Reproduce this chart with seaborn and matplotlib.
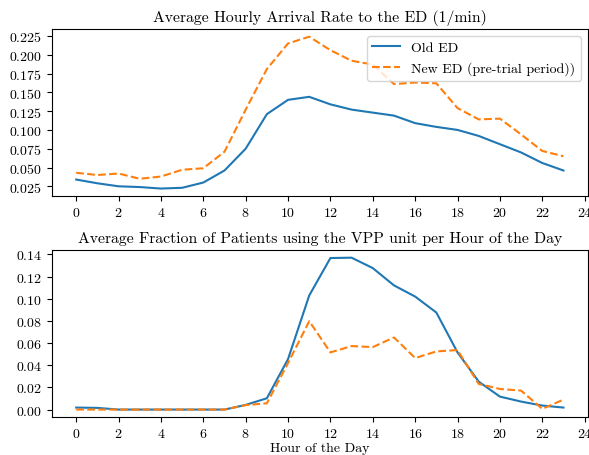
import numpy as np
import pandas as pd
import matplotlib
matplotlib.use("Agg")
import matplotlib.pyplot as plt
import seaborn as sns

# hours of the day
hours = list(range(24))

# arrival rate (1/min)
arr_old = [0.034, 0.029, 0.025, 0.024, 0.022, 0.023, 0.030, 0.046, 0.075, 0.121,
           0.140, 0.144, 0.134, 0.127, 0.123, 0.119, 0.109, 0.104, 0.100, 0.092,
           0.081, 0.070, 0.056, 0.046]
arr_new = [0.043, 0.040, 0.042, 0.035, 0.038, 0.047, 0.049, 0.071, 0.127, 0.181,
           0.215, 0.224, 0.206, 0.192, 0.187, 0.161, 0.163, 0.162, 0.129, 0.114,
           0.115, 0.094, 0.072, 0.065]

# fraction using the VPP unit
vpp_old = [0.0018, 0.0015, 0.0, 0.0, 0.0, 0.0, 0.0, 0.0, 0.0042, 0.0102,
           0.0456, 0.103, 0.1368, 0.1371, 0.1277, 0.1121, 0.102, 0.0876, 0.0516, 0.0252,
           0.0117, 0.0072, 0.0036, 0.0018]
vpp_new = [0.0, 0.0, 0.0, 0.0, 0.0, 0.0, 0.0, 0.0, 0.004, 0.0057,
           0.042, 0.0798, 0.0516, 0.0573, 0.0564, 0.0651, 0.0465, 0.0525, 0.0537, 0.0231,
           0.0186, 0.0171, 0.0006, 0.009]

lbl_old = "Old ED"
lbl_new = "New ED (pre-trial period))"

plt.rcParams['font.family'] = ['cmr10', 'DejaVu Serif']
plt.rcParams['axes.formatter.use_mathtext'] = True
plt.rcParams['mathtext.fontset'] = 'cm'

df = pd.DataFrame({"hour": hours, "arr_old": arr_old, "arr_new": arr_new,
                   "vpp_old": vpp_old, "vpp_new": vpp_new})

fig, (ax1, ax2) = plt.subplots(2, 1, figsize=(5.89, 4.56), dpi=100)
fig.subplots_adjust(left=0.088, right=0.998, top=0.934, bottom=0.083, hspace=0.323)

# top panel
sns.lineplot(data=df, x="hour", y="arr_old", ax=ax1, color="tab:blue", label=lbl_old)
sns.lineplot(data=df, x="hour", y="arr_new", ax=ax1, color="tab:orange", linestyle="--", label=lbl_new)
ax1.set_title("Average Hourly Arrival Rate to the ED (1/min)", fontsize=11.3)
ax1.set_xlabel("")
ax1.set_ylabel("")
ax1.set_xticks(range(0, 25, 2))
ax1.set_yticks(np.arange(0.025, 0.226, 0.025))
ax1.legend(loc="upper right")

# bottom panel
sns.lineplot(data=df, x="hour", y="vpp_old", ax=ax2, color="tab:blue")
sns.lineplot(data=df, x="hour", y="vpp_new", ax=ax2, color="tab:orange", linestyle="--")
ax2.set_title("Average Fraction of Patients using the VPP unit per Hour of the Day", fontsize=11.3)
ax2.set_xlabel("Hour of the Day", labelpad=1.5)
ax2.set_ylabel("")
ax2.set_xticks(range(0, 25, 2))
ax2.set_yticks(np.arange(0, 0.141, 0.02))

fig.savefig("out.png", dpi=100)
